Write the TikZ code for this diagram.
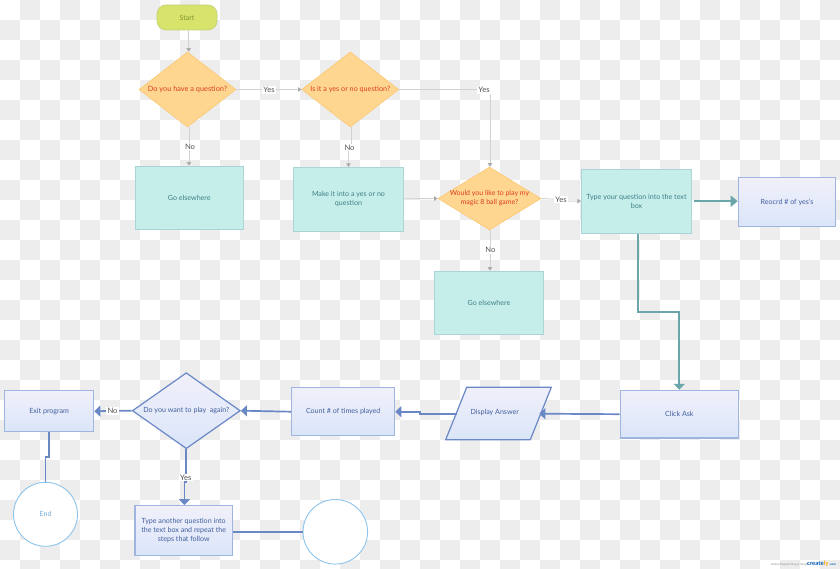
\documentclass[tikz,border=0pt]{standalone}
\usepackage{fontspec}
\setmainfont{Lato}
\usetikzlibrary{shapes.geometric,arrows.meta,calc}
\definecolor{chk}{HTML}{EDEDED}
\definecolor{tealfill}{HTML}{C5EEEA}
\definecolor{tealedge}{HTML}{A9D5D6}
\definecolor{tealtext}{HTML}{3F7F88}
\definecolor{tealarrow}{HTML}{6BA6AB}
\definecolor{orgfill}{HTML}{FFD68F}
\definecolor{orgline}{HTML}{FBC873}
\definecolor{redtext}{HTML}{D9401F}
\definecolor{bluetop}{HTML}{F1F0FA}
\definecolor{bluebot}{HTML}{DAE5F9}
\definecolor{blueline}{HTML}{9FB5E0}
\definecolor{bluedark}{HTML}{6A87C6}
\definecolor{bluetext}{HTML}{41609E}
\definecolor{circline}{HTML}{8CC4EC}
\definecolor{endtext}{HTML}{74ADD8}
\definecolor{thin}{HTML}{D2D2D2}
\definecolor{thinhead}{HTML}{ABABAB}
\definecolor{startfill}{HTML}{D7E36B}
\definecolor{startline}{HTML}{C3D27B}
\definecolor{starttext}{HTML}{7F9530}
\newcommand\clapped[1]{\makebox[0pt]{\begin{tabular}{@{}c@{}}#1\end{tabular}}}
\tikzset{
  base/.style={font=\fontsize{7.1}{8.8}\selectfont, align=center, inner sep=0pt, anchor=center},
  tealbox/.style={base, rectangle, draw=tealedge, fill=tealfill, line width=.8pt, text=tealtext},
  bluebox/.style={base, rectangle, draw=blueline, top color=bluetop, bottom color=bluebot, line width=1.2pt, text=bluetext},
  orgdia/.style={base, diamond, draw=orgline, fill=orgfill, line width=.6pt, text=redtext},
  bluedia/.style={base, diamond, draw=bluedark, top color=bluetop, bottom color=bluebot, line width=1.2pt, text=bluetext},
  startnode/.style={base, rectangle, rounded corners=9pt, draw=startline, fill=startfill, text=starttext, line width=.7pt},
  ring/.style={base, circle, draw=circline, fill=white, line width=.9pt, text=endtext, minimum size=64pt},
  thinline/.style={draw=thin, line width=.9pt, -{Triangle[width=4.5pt,length=3.5pt,color=thinhead]}},
  tealconn/.style={draw=tealarrow, line width=1.9pt, -{Triangle[width=11pt,length=7pt]}},
  blueconn/.style={draw=bluedark, line width=1.7pt, -{Triangle[width=11pt,length=6pt]}},
  bluebare/.style={draw=bluedark, line width=1.7pt},
  edgelabel/.style={font=\fontsize{7.6}{9}\selectfont, text=black!68, fill=white, inner sep=1.2pt, anchor=center}
}
\begin{document}
\begin{tikzpicture}[x=1pt,y=-1pt]
\useasboundingbox (0,0) rectangle (840,569);
\fill[white] (0,0) rectangle (840,569);
% checker background
\foreach \i in {0,...,41}{\foreach \j in {0,...,28}{
  \pgfmathtruncatemacro{\odd}{mod(\i+\j,2)}
  \ifnum\odd=1 \fill[chk] (\i*20,\j*20) rectangle ({min((\i+1)*20,840)},{min((\j+1)*20,569)}); \fi
}}
% nodes
\node[startnode, minimum width=60pt, minimum height=25pt] (start) at (187,17.5) {Start};
\node[orgdia, font=\fontsize{7.35}{9}\selectfont, minimum width=97pt, minimum height=75pt] (d1) at (187.5,89.5) {\clapped{Do you have a question?}};
\node[orgdia, font=\fontsize{7.2}{9}\selectfont, minimum width=97pt, minimum height=75pt] (d2) at (350.3,89.5) {\clapped{Is it a yes or no question?}};
\node[orgdia, font=\fontsize{7}{8.6}\selectfont, minimum width=103pt, minimum height=63pt] (d3) at (489.5,198.5) {\clapped{Would you like to play my\\magic 8 ball game?}};
\node[tealbox, minimum width=108.7pt, minimum height=63pt] (go1) at (189.3,197.5) {Go elsewhere};
\node[tealbox, minimum width=110.4pt, minimum height=64pt] (make) at (348.5,199.3) {Make it into a yes or no\\question};
\node[tealbox, minimum width=109.4pt, minimum height=63.3pt] (go3) at (489,302.7) {Go elsewhere};
\node[tealbox, minimum width=110.4pt, minimum height=64.3pt] (type) at (636.5,201.2) {Type your question into the text\\box};
\node[bluebox, minimum width=97.4pt, minimum height=49pt] (rec) at (787,202.2) {Reocrd \# of yes's};
\node[bluebox, minimum width=118pt, minimum height=47.7pt] (click) at (679.3,414.2) {Click Ask};
\node[bluebox, minimum width=103pt, minimum height=48pt] (count) at (343.2,411.7) {Count \# of times played};
\node[bluedia, minimum width=108pt, minimum height=76pt] (d4) at (186.3,410.7) {\clapped{Do you want to play~~again?}};
\node[bluebox, minimum width=89pt, minimum height=41pt] (exit) at (49.2,411.2) {Exit program};
\node[ring] (endn) at (45.5,514.3) {End};
\node[bluebox, minimum width=97.3pt, minimum height=50pt] (again) at (183.7,530.7) {Type another question into\\the text box and repeat the\\steps that follow};
\node[ring, minimum size=64.6pt] (blank) at (335.3,531.8) {};
% parallelogram
\coordinate (pa) at (466.7,387.3);
\coordinate (pb) at (551.3,387.3);
\coordinate (pc) at (530.3,439.7);
\coordinate (pd) at (445.7,439.7);
\shade[top color=bluetop, bottom color=bluebot] (pa) -- (pb) -- (pc) -- (pd) -- cycle;
\draw[bluedark, line width=1.2pt, line join=miter] (pa) -- (pb) -- (pc) -- (pd) -- cycle;
\node[base, text=bluetext] (disp) at (494.7,412.3) {Display Answer};
\coordinate (dispL) at (456.7,413.7);
\coordinate (dispR) at (539.3,413.7);
% thin connectors
\draw[thinline] ([xshift=1.3pt]start.south) -- ([xshift=1.3pt]d1.north);
\draw[thinline] (d1.east) -- (d2.west);
\draw[thinline] ([xshift=1.5pt]d1.south) -- ([xshift=1.5pt]d1.south |- go1.north);
\draw[thinline] ([xshift=.7pt]d2.south) -- ++(0,22) -| (make.north);
\coordinate (bend) at (490,89.5);
\draw[thinline] (d2.east) -- (bend) -- (bend |- d3.north);
\draw[thinline] ([yshift=.5pt]make.east) -- (d3.west);
\draw[thinline] (d3.east) -- (561,199.5) -- (561,201.2) -- (type.west);
\draw[thinline] ([xshift=.5pt]d3.south) -- ([xshift=.5pt]d3.south |- go3.north);
% labels on thin connectors
\node[edgelabel] (ly1) at (269,90) {Yes};
\node[edgelabel] (ln1) at (190,146.5) {No};
\node[edgelabel] (ln2) at (349.5,147.5) {No};
\node[edgelabel] (ly2) at (484,90) {Yes};
\node[edgelabel] (ly3) at (561,199.5) {Yes};
\node[edgelabel] (ln3) at (490.3,250) {No};
% teal connectors
\draw[tealconn] ([xshift=1.5pt]type.east) -- (rec.west |- type.east);
\coordinate (tbend) at (637.7,312);
\draw[tealconn, -{Triangle[width=11pt,length=6pt]}] (tbend |- type.south) -- (tbend) -- (click.north |- tbend) -- (click.north);
% blue connectors
\draw[blueconn] (click.west) -- (dispR);
\coordinate (cbend) at (420,413.7);
\draw[blueconn] (dispL) -- (cbend) -- (cbend |- count.east) -- (count.east);
\draw[blueconn] (count.west) -- (d4.east);
\draw[blueconn] (d4.west) -- (exit.east);
\coordinate (abend) at (184.4,482);
\draw[blueconn] (d4.south) -- (d4.south |- abend) -- (abend) -- (abend |- again.north);
\coordinate (ebend) at (48.7,456.7);
\draw[bluebare] (ebend |- exit.south) -- (ebend) -- (endn.north |- ebend) -- (endn.north);
\draw[bluebare] (again.east |- blank.west) -- (blank.west);
\node[edgelabel] (ln4) at (112.5,411) {No};
\node[edgelabel] (ly4) at (185.7,477.5) {Yes};
% watermark
\node[anchor=east, font=\fontsize{3}{3}\selectfont, text=black!45, inner sep=0pt] (wm) at (809,564.5) {online diagramming \& design};
\node[anchor=east, font=\bfseries\fontsize{6}{7}\selectfont, text=blue!50!cyan!70!black, inner sep=0pt] (wm2) at (836,564) {create\textcolor{orange!70!yellow}{ly}\,\fontsize{3}{3}\selectfont .com};
\end{tikzpicture}
\end{document}
